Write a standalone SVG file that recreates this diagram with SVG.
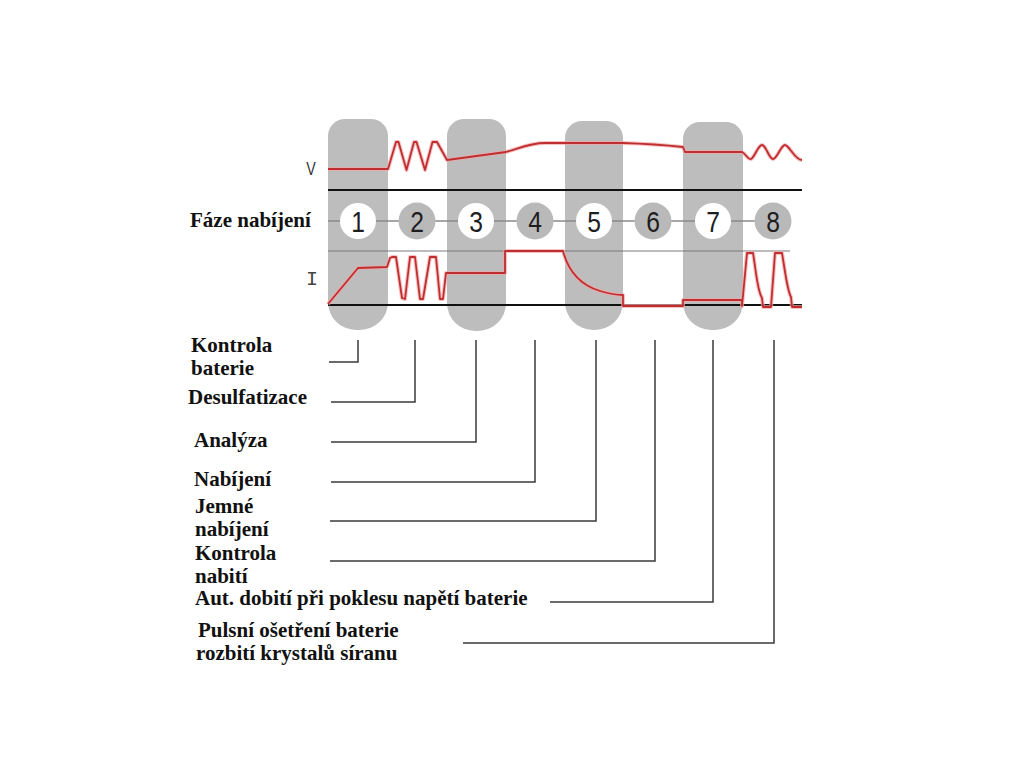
<svg xmlns="http://www.w3.org/2000/svg" width="1024" height="768" viewBox="0 0 1024 768">
<style>
.pill{fill:#bdbdbd}
.wc{fill:#ffffff}
.gc{fill:#b9b9b9}
.num{font-family:"Liberation Sans",Arial,sans-serif;font-size:29px;fill:#1e1e1e;text-anchor:middle}
.lbl{font-family:"Liberation Serif","Times New Roman",serif;font-weight:bold;font-size:21px;fill:#111}
.axis{stroke:#111;stroke-width:2;fill:none}
.thin{stroke:#7a7a7a;stroke-width:1.2;fill:none}
.redhalo{stroke:#f2a7a7;stroke-width:4;fill:none;stroke-linejoin:round;opacity:0.7}
.red{stroke:#bf2f31;stroke-width:1.8;fill:none;stroke-linejoin:round}
.conn{stroke:#3a3a3a;stroke-width:1.5;fill:none}
</style>
<rect width="1024" height="768" fill="#ffffff"/>

<g id="pills">
<path class="pill" d="M328,136 A17,17 0 0 1 345,119 H371 A17,17 0 0 1 388,136 V302 A28,28 0 0 1 360,330 H356 A28,28 0 0 1 328,302 Z"/>
<path class="pill" d="M447,136 A17,17 0 0 1 464,119 H489 A17,17 0 0 1 506,136 V303 A28,28 0 0 1 478,331 H475 A28,28 0 0 1 447,303 Z"/>
<path class="pill" d="M565,138 A17,17 0 0 1 582,121 H606 A17,17 0 0 1 623,138 V302 A28,28 0 0 1 595,330 H593 A28,28 0 0 1 565,302 Z"/>
<path class="pill" d="M683,139 A17,17 0 0 1 700,122 H726 A17,17 0 0 1 743,139 V302 A28,28 0 0 1 715,330 H711 A28,28 0 0 1 683,302 Z"/>
</g>

<g id="axes">
<text x="311" y="175" font-family="Liberation Sans, Arial, sans-serif" font-size="19" fill="#333" text-anchor="middle" transform="translate(311 0) scale(0.75 1) translate(-311 0)">V</text>
<line class="axis" x1="328" y1="190" x2="802" y2="190"/>
<line class="thin" x1="328" y1="251" x2="790" y2="251"/>
<text x="312" y="285" font-family="Liberation Mono, Courier New, monospace" font-size="20" fill="#444" text-anchor="middle">I</text>
<line class="axis" x1="328" y1="305" x2="802" y2="305"/>
</g>

<g id="voltage-curve">
<path class="redhalo" d="M328,169 H388 L396,142 L398.5,142 L406.5,170 L414,142 L416.5,142 L425,170 L432.5,142 L437,142 L447,160 L506,152 C520,148 530,143 545,143 L623,143 Q655,144 683,147 L685,152 H742 C746,154 748,160 751,159 C755,157 758,145 762,145 C766,145 769,159 773,159 C777,159 781,145 785,145 C789,145 795,160 802,160"/>
<path class="red" d="M328,169 H388 L396,142 L398.5,142 L406.5,170 L414,142 L416.5,142 L425,170 L432.5,142 L437,142 L447,160 L506,152 C520,148 530,143 545,143 L623,143 Q655,144 683,147 L685,152 H742 C746,154 748,160 751,159 C755,157 758,145 762,145 C766,145 769,159 773,159 C777,159 781,145 785,145 C789,145 795,160 802,160"/>
</g>

<g id="current-curve">
<path class="redhalo" d="M328,304 L358,268 L387,267 L390,258 L392,257 L396,257 L402,298 L405,299 L410,257 L415,257 L420,299 L423,299 L430,257 L436,257 L440,299 L443,299 L446,273 L505,273 V251 H563 C568,270 580,285 600,291 C610,294 618,295 623,295 V306 H683 V300 H742 V306 L747,253 H753 C756,270 757,290 762,298 L763,307 H771 L775,253 H782 C785,270 787,290 791,297 L792,307 H802"/>
<path class="red" d="M328,304 L358,268 L387,267 L390,258 L392,257 L396,257 L402,298 L405,299 L410,257 L415,257 L420,299 L423,299 L430,257 L436,257 L440,299 L443,299 L446,273 L505,273 V251 H563 C568,270 580,285 600,291 C610,294 618,295 623,295 V306 H683 V300 H742 V306 L747,253 H753 C756,270 757,290 762,298 L763,307 H771 L775,253 H782 C785,270 787,290 791,297 L792,307 H802"/>
</g>

<g id="phase-row">
<text class="lbl" x="190" y="227" font-size="20.5">Fáze nabíjení</text>
<line x1="328" y1="221" x2="772" y2="221" stroke="#8a8a8a" stroke-width="1.5"/>
</g>

<g id="phase1"><circle class="wc" cx="358" cy="221" r="18"/><text class="num" x="358" y="232" transform="translate(358 0) scale(0.85 1) translate(-358 0)">1</text></g>
<g id="phase2"><circle class="gc" cx="417" cy="221" r="18.5"/><text class="num" x="417" y="232" transform="translate(417 0) scale(0.85 1) translate(-417 0)">2</text></g>
<g id="phase3"><circle class="wc" cx="476" cy="221" r="18"/><text class="num" x="476" y="232" transform="translate(476 0) scale(0.85 1) translate(-476 0)">3</text></g>
<g id="phase4"><circle class="gc" cx="535" cy="221" r="18.5"/><text class="num" x="535" y="232" transform="translate(535 0) scale(0.85 1) translate(-535 0)">4</text></g>
<g id="phase5"><circle class="wc" cx="594" cy="221" r="18"/><text class="num" x="594" y="232" transform="translate(594 0) scale(0.85 1) translate(-594 0)">5</text></g>
<g id="phase6"><circle class="gc" cx="653" cy="221" r="18.5"/><text class="num" x="653" y="232" transform="translate(653 0) scale(0.85 1) translate(-653 0)">6</text></g>
<g id="phase7"><circle class="wc" cx="713" cy="221" r="18"/><text class="num" x="713" y="232" transform="translate(713 0) scale(0.85 1) translate(-713 0)">7</text></g>
<g id="phase8"><circle class="gc" cx="773" cy="221" r="18.5"/><text class="num" x="773" y="232" transform="translate(773 0) scale(0.85 1) translate(-773 0)">8</text></g>

<g id="connectors">
<path class="conn" d="M358,340 V362 H329"/>
<path class="conn" d="M415,340 V402 H331"/>
<path class="conn" d="M476,340 V442 H331"/>
<path class="conn" d="M535,340 V482 H331"/>
<path class="conn" d="M596,340 V521 H330"/>
<path class="conn" d="M655,340 V561 H330"/>
<path class="conn" d="M713,340 V602 H550"/>
<path class="conn" d="M774,340 V643 H463"/>
</g>

<g id="label-kontrola-baterie"><text class="lbl" x="191" y="352">Kontrola</text><text class="lbl" x="191" y="375">baterie</text></g>
<g id="label-desulfatizace"><text class="lbl" x="188" y="404">Desulfatizace</text></g>
<g id="label-analyza"><text class="lbl" x="194" y="447">Analýza</text></g>
<g id="label-nabijeni"><text class="lbl" x="194" y="486">Nabíjení</text></g>
<g id="label-jemne-nabijeni"><text class="lbl" x="195" y="513">Jemné</text><text class="lbl" x="195" y="536">nabíjení</text></g>
<g id="label-kontrola-nabiti"><text class="lbl" x="195" y="560">Kontrola</text><text class="lbl" x="195" y="583">nabití</text></g>
<g id="label-aut-dobiti"><text class="lbl" x="195" y="605">Aut. dobití při poklesu napětí baterie</text></g>
<g id="label-pulsni"><text class="lbl" x="198" y="637">Pulsní ošetření baterie</text><text class="lbl" x="196" y="660">rozbití krystalů síranu</text></g>
</svg>
